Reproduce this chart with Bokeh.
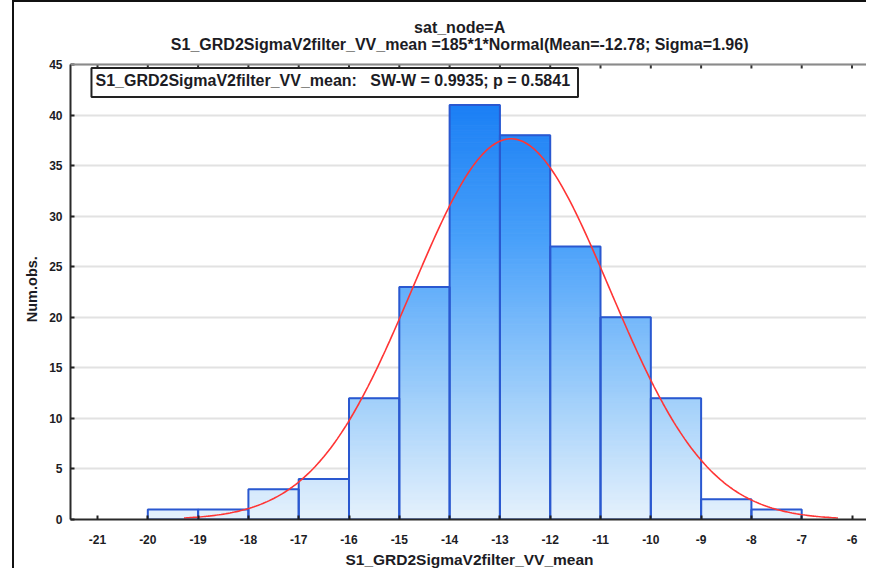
import numpy as np
from bokeh.plotting import figure
from bokeh.models import Label, FixedTicker, Range1d, Span
from bokeh.embed import file_html
from bokeh.resources import INLINE

# ---- data ----
bin_left = [-20, -19, -18, -17, -16, -15, -14, -13, -12, -11, -10, -9, -8]
bin_right = [-19, -18, -17, -16, -15, -14, -13, -12, -11, -10, -9, -8, -7]
counts = [1, 1, 3, 4, 12, 23, 41, 38, 27, 20, 12, 2, 1]
fit_n = 185
fit_bin_width = 1
fit_mean = -12.78
fit_sigma = 1.96
x_ticks = [-21, -20, -19, -18, -17, -16, -15, -14, -13, -12, -11, -10, -9, -8, -7, -6]
x_tick_labels = ["-21", "-20", "-19", "-18", "-17", "-16", "-15", "-14", "-13", "-12",
                 "-11", "-10", "-9", "-8", "-7", "-6"]
y_ticks = [0, 5, 10, 15, 20, 25, 30, 35, 40, 45]
y_max = 45
title_line1 = "sat_node=A"
title_line2 = "S1_GRD2SigmaV2filter_VV_mean =185*1*Normal(Mean=-12.78; Sigma=1.96)"
box_text = "S1_GRD2SigmaV2filter_VV_mean:\u00a0\u00a0 SW-W = 0.9935; p = 0.5841"
x_label = "S1_GRD2SigmaV2filter_VV_mean"
y_label = "Num.obs."

# ---- style ----
FONT = "Liberation Sans"
TXT = "#1c1c24"
grad_stops_v = [0, 14, 28, 41, 45]
grad_stops_rgb = [(230, 242, 253), (150, 202, 250), (72, 160, 250), (28, 128, 245), (20, 118, 240)]
EDGE = "#2a58d0"
PX_X = 50.3          # pixels per x unit
PX_Y = 455 / 45      # pixels per y unit

x0 = -21.537
x1 = x0 + 798 / PX_X
y_top = y_max + 62 / PX_Y   # room above the plot area for titles

p = figure(width=854, height=568, output_backend="svg", toolbar_location=None,
           x_range=Range1d(x0, x1), y_range=Range1d(0, y_top),
           min_border_left=56, min_border_right=0, min_border_top=0, min_border_bottom=51)
p.styles = {"border-left": "2px solid #111", "border-top": "2px solid #111"}
p.margin = (0, 0, 0, 12)
p.outline_line_color = None
p.background_fill_color = "white"
p.border_fill_color = "white"

p.xgrid.grid_line_color = None
p.ygrid.grid_line_color = "#e2e2e2"
p.ygrid.grid_line_width = 2
p.ygrid.ticker = FixedTicker(ticks=y_ticks)

# gradient bars via thin strips
def grad_color(v):
    r = np.interp(v, grad_stops_v, [c[0] for c in grad_stops_rgb])
    g = np.interp(v, grad_stops_v, [c[1] for c in grad_stops_rgb])
    b = np.interp(v, grad_stops_v, [c[2] for c in grad_stops_rgb])
    return "#%02x%02x%02x" % (int(r), int(g), int(b))

step = 0.25
sl, sr, sb, st, sc = [], [], [], [], []
for l, r, c in zip(bin_left, bin_right, counts):
    y = 0.0
    while y < c - 1e-9:
        top = min(y + step, c)
        sl.append(l); sr.append(r); sb.append(y); st.append(top)
        sc.append(grad_color((y + top) / 2))
        y = top
p.quad(left=sl, right=sr, bottom=sb, top=st, fill_color=sc, line_color=sc, line_width=1)
p.quad(left=bin_left, right=bin_right, bottom=0, top=counts, fill_color=None,
       line_color=EDGE, line_width=2)

# fitted normal curve: 185*1*Normal(mean, sigma)
xs = np.linspace(fit_mean - 6.5, fit_mean + 6.5, 300)
ys = fit_n * fit_bin_width * np.exp(-0.5 * ((xs - fit_mean) / fit_sigma) ** 2) / (fit_sigma * np.sqrt(2 * np.pi))
p.line(xs, ys, line_color="#ff3535", line_width=1.6)

# axes
xa = p.xaxis[0]
xa.ticker = FixedTicker(ticks=x_ticks)
xa.major_label_overrides = {t: s for t, s in zip(x_ticks, x_tick_labels)}
xa.axis_label = x_label
ya = p.yaxis[0]
ya.ticker = FixedTicker(ticks=y_ticks)
ya.bounds = (0, y_max)
# trailing no-break spaces keep the rotated label centred on the 0..45 part of the axis
ya.axis_label = y_label + "\u00a0" * 14

for ax in (xa, ya):
    ax.axis_line_color = "#2a2a2a"
    ax.axis_line_width = 2
    ax.major_tick_in = 4
    ax.major_tick_out = 0
    ax.major_tick_line_color = "#222"
    ax.major_tick_line_width = 2
    ax.minor_tick_line_color = None
    ax.major_label_text_font = FONT
    ax.major_label_text_font_style = "bold"
    ax.major_label_text_font_size = "12px"
    ax.major_label_text_color = TXT
    ax.axis_label_text_font = FONT
    ax.axis_label_text_font_style = "bold"
    ax.axis_label_text_color = TXT
xa.axis_label_text_font_size = "15.5px"
ya.axis_label_text_font_size = "14.5px"
xa.major_label_standoff = 15
xa.axis_label_standoff = 4
ya.major_label_standoff = 8
ya.axis_label_standoff = 6

# top mirror axis line with inward ticks
p.add_layout(Span(location=y_max, dimension="width", line_color="#8a8a8a", line_width=2))
p.segment(x0=x_ticks, x1=x_ticks, y0=[y_max] * len(x_ticks),
          y1=[y_max - 4 / PX_Y] * len(x_ticks), line_color="#333", line_width=2)

# titles (two lines)
cx = -13.8
p.add_layout(Label(x=cx, y=y_max + 37 / PX_Y, text=title_line1, text_align="center",
                   text_baseline="middle", text_font=FONT, text_font_style="bold",
                   text_font_size="16px", text_color=TXT))
p.add_layout(Label(x=cx, y=y_max + 20 / PX_Y, text=title_line2, text_align="center",
                   text_baseline="middle", text_font=FONT, text_font_style="bold",
                   text_font_size="16px", text_color=TXT))

# stats box
p.add_layout(Label(x=-21.12, y=43.22, text=box_text,
                   text_align="left", text_baseline="middle",
                   text_font=FONT, text_font_style="bold", text_font_size="16px", text_color=TXT,
                   border_line_color="#222", border_line_width=2, background_fill_color="white",
                   padding=(4, 8, 4, 8)))

open("out.html", "w").write(file_html(p, INLINE))
